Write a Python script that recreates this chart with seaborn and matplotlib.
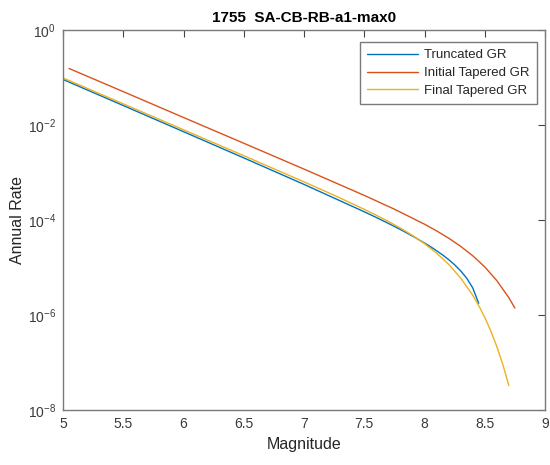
import matplotlib
matplotlib.use("Agg")
import matplotlib.pyplot as plt
import seaborn as sns
import pandas as pd
from matplotlib.ticker import NullLocator, FixedLocator

# ---- data ----
mag_trunc = [5.0, 5.5, 6.0, 6.5, 7.0, 7.5, 7.6, 7.7, 7.8, 7.9, 8.0, 8.05, 8.1,
             8.15, 8.2, 8.25, 8.3, 8.35, 8.4, 8.45]
rate_trunc = [9.1e-2, 2.57e-2, 7.24e-3, 2.03e-3, 5.62e-4, 1.49e-4, 1.13e-4, 8.49e-5,
              6.30e-5, 4.60e-5, 3.28e-5, 2.74e-5, 2.26e-5, 1.84e-5, 1.47e-5, 1.14e-5,
              8.51e-6, 5.97e-6, 3.74e-6, 1.76e-6]

mag_init = [5.05, 5.5, 6.0, 6.5, 7.0, 7.5, 7.75, 8.0, 8.1, 8.2, 8.3, 8.4, 8.5,
            8.6, 8.7, 8.75]
rate_init = [1.55e-1, 5.04e-2, 1.44e-2, 4.13e-3, 1.18e-3, 3.30e-4, 1.69e-4, 8.16e-5,
             5.91e-5, 4.15e-5, 2.79e-5, 1.77e-5, 1.03e-5, 5.30e-6, 2.31e-6, 1.40e-6]

mag_final = [5.0, 5.5, 6.0, 6.5, 7.0, 7.25, 7.5, 7.6, 7.7, 7.8, 7.9, 8.0, 8.1, 8.2,
             8.3, 8.4, 8.45, 8.5, 8.55, 8.6, 8.65, 8.7]
rate_final = [9.77e-2, 2.79e-2, 7.94e-3, 2.26e-3, 6.35e-4, 3.32e-4, 1.68e-4, 1.26e-4,
              9.33e-5, 6.75e-5, 4.73e-5, 3.18e-5, 2.01e-5, 1.17e-5, 6.01e-6, 2.62e-6,
              1.58e-6, 8.93e-7, 4.63e-7, 2.17e-7, 9.04e-8, 3.27e-8]

series_names = ["Truncated GR", "Initial Tapered GR", "Final Tapered GR"]
x_ticks = [5, 5.5, 6, 6.5, 7, 7.5, 8, 8.5, 9]
x_tick_labels = ["5", "5.5", "6", "6.5", "7", "7.5", "8", "8.5", "9"]
y_ticks = [1e-8, 1e-6, 1e-4, 1e-2, 1e0]
title_text = "1755  SA-CB-RB-a1-max0"

df = pd.concat([
    pd.DataFrame({"Magnitude": mag_trunc, "Rate": rate_trunc, "Model": series_names[0]}),
    pd.DataFrame({"Magnitude": mag_init, "Rate": rate_init, "Model": series_names[1]}),
    pd.DataFrame({"Magnitude": mag_final, "Rate": rate_final, "Model": series_names[2]}),
], ignore_index=True)

# ---- style ----
sns.set_theme(style="white")
plt.rcParams["font.family"] = ["Liberation Sans", "DejaVu Sans"]
plt.rcParams["mathtext.default"] = "regular"
plt.rcParams["axes.unicode_minus"] = False

palette = {"Truncated GR": "#0072BD",
           "Initial Tapered GR": "#D95319",
           "Final Tapered GR": "#EDB120"}

fig = plt.figure(figsize=(5.5, 4.65), dpi=100)
ax = fig.add_axes([63 / 550, 1 - 410 / 465, (545 - 63) / 550, (410 - 30) / 465])

sns.lineplot(data=df, x="Magnitude", y="Rate", hue="Model", hue_order=series_names,
             palette=palette, linewidth=1.0, errorbar=None, sort=True, ax=ax)

ax.set_yscale("log")
ax.set_xlim(5, 9)
ax.set_ylim(1e-8, 1e0)
ax.xaxis.set_major_locator(FixedLocator(x_ticks))
ax.set_xticklabels(x_tick_labels)
ax.yaxis.set_major_locator(FixedLocator(y_ticks))
ax.yaxis.set_minor_locator(NullLocator())
ax.xaxis.set_minor_locator(NullLocator())

axis_col = "#7a7a7a"
for sp in ax.spines.values():
    sp.set_visible(True)
    sp.set_color(axis_col)
    sp.set_linewidth(1.0)
ax.tick_params(axis="both", which="major", direction="in", length=5, width=0.8,
               color="#444444", top=True, right=True, labelsize=10,
               labelcolor="#3a3a3a", pad=5)

ax.set_xlabel("Magnitude", fontsize=11.5, color="#262626", labelpad=4)
ax.set_ylabel("Annual Rate", fontsize=11.5, color="#262626", labelpad=2)
ax.set_title(title_text, fontsize=11, fontweight="bold", color="#000000", pad=6)

leg = ax.legend(loc="upper right", bbox_to_anchor=((537 - 63) / 482, (410 - 42) / 380),
                borderaxespad=0.0, fontsize=9.5, frameon=True, fancybox=False,
                framealpha=1.0, edgecolor="#7a7a7a",
                handlelength=3.9, handletextpad=0.45, labelspacing=0.42,
                borderpad=0.55)
leg.get_frame().set_linewidth(1.0)
for t in leg.get_texts():
    t.set_color("#262626")

fig.savefig("out.png", dpi=100)
